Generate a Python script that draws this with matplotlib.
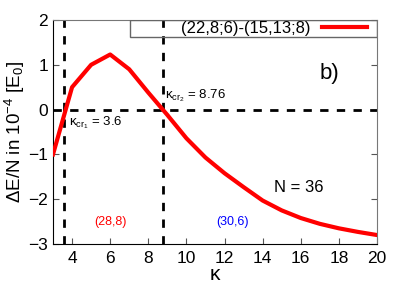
import numpy as np
import matplotlib.pyplot as plt
from matplotlib.patches import Rectangle

# data
kappa = [3, 4, 5, 6, 7, 8, 8.76, 9, 10, 11, 12, 13, 14, 15, 16, 17, 18, 19, 20]
dE = [-1.0, 0.5, 1.0, 1.23, 0.9, 0.38, 0.0, -0.12, -0.64, -1.07, -1.42, -1.73,
      -2.03, -2.25, -2.42, -2.55, -2.65, -2.73, -2.8]
kcr = [3.6, 8.76]
xticks = [4, 6, 8, 10, 12, 14, 16, 18, 20]
yticks = [-3, -2, -1, 0, 1, 2]

plt.rcParams['font.family'] = ['Liberation Sans', 'DejaVu Sans']
plt.rcParams['mathtext.fontset'] = 'custom'
plt.rcParams['mathtext.rm'] = 'Liberation Sans'
plt.rcParams['mathtext.it'] = 'Liberation Sans'

fig = plt.figure(figsize=(4.06, 2.84), dpi=100)
ax = fig.add_axes([53/406, 1-244/284, 324/406, 224/284])

ax.plot(kappa, dE, color='red', lw=3, label='(22,8;6)-(15,13;8)', zorder=3)
for k in kcr:
	ax.axvline(k, color='black', ls=(0, (3, 3)), lw=2)
ax.axhline(0, color='black', ls=(0, (3, 3)), lw=2)

ax.set_xlim(3, 20)
ax.set_ylim(-3, 2)
ax.set_xticks(xticks)
ax.set_yticks(yticks)
ax.tick_params(direction='in', labelsize=12.5, length=4, right=True, color='#555555')
ax.tick_params(axis='x', pad=5)
for s in ['top', 'right']:
	ax.spines[s].set_color('#777777')

ax.set_xlabel('κ', fontsize=15, labelpad=-0.5)
ax.set_ylabel(r'ΔE/N in 10$^{-4}$ [E$_0$]', fontsize=13.5, labelpad=1)

# key box like gnuplot
ax.add_patch(Rectangle((0.238, 0.924), 0.762, 0.076, transform=ax.transAxes,
	fill=False, edgecolor='#666666', lw=1, zorder=4))
ax.legend(loc='center right', bbox_to_anchor=(1-10/324, (244-28.5)/224),
	frameon=False, markerfirst=False, fontsize=12, borderaxespad=0, borderpad=0,
	handlelength=2.7, handletextpad=0.7)

ax.text(17.5, 0.8, 'b)', fontsize=16, ha='center', va='center')
ax.text(3.85, -0.3, r'κ$_{cr_1}$ = 3.6', fontsize=9.5, va='center')
ax.text(8.9, 0.3, r'κ$_{cr_2}$ = 8.76', fontsize=9.5, va='center')
ax.text(15.9, -1.75, 'N = 36', fontsize=12, ha='center', va='center')
ax.text(6.0, -2.52, '(28,8)', fontsize=9, color='red', ha='center', va='center')
ax.text(12.4, -2.52, '(30,6)', fontsize=9, color='blue', ha='center', va='center')

fig.savefig('out.png', dpi=100)
